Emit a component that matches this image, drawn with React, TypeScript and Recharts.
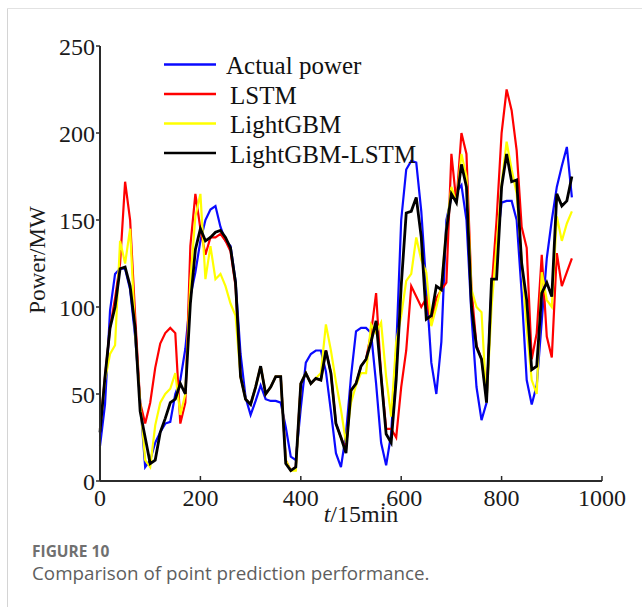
import React from 'react'
import { Legend, Line, LineChart, XAxis, YAxis } from 'recharts'

// t in units of 15 min
const timeSteps = [
    0, 10, 20, 30, 40, 50, 60, 70, 80, 90,
    100, 110, 120, 130, 140, 150, 160, 170, 180, 190,
    200, 210, 220, 230, 240, 250, 260, 270, 280, 290,
    300, 310, 320, 330, 340, 350, 360, 370, 380, 390,
    400, 410, 420, 430, 440, 450, 460, 470, 480, 490,
    500, 510, 520, 530, 540, 550, 560, 570, 580, 590,
    600, 610, 620, 630, 640, 650, 660, 670, 680, 690,
    700, 710, 720, 730, 740, 750, 760, 770, 780, 790,
    800, 810, 820, 830, 840, 850, 860, 870, 880, 890,
    900, 910, 920, 930, 940,
]

const actualPower = [
    20, 44, 98, 119, 122, 122, 110, 83, 46, 8,
    12, 22, 28, 33, 34, 50, 58, 76, 106, 120,
    138, 150, 156, 158, 146, 138, 135, 115, 73, 48,
    38, 46, 55, 47, 46, 46, 45, 31, 14, 12,
    42, 68, 73, 75, 75, 63, 40, 16, 8, 27,
    60, 86, 88, 88, 85, 56, 22, 9, 27, 75,
    150, 179, 184, 183, 155, 112, 68, 50, 80, 150,
    163, 166, 170, 150, 95, 54, 35, 45, 112, 134,
    160, 161, 161, 150, 108, 58, 44, 55, 92, 128,
    150, 169, 181, 192, 163,
]

const lstm = [
    30, 60, 88, 105, 125, 172, 150, 95, 45, 33,
    45, 65, 79, 85, 88, 85, 33, 45, 135, 165,
    145, 130, 140, 140, 142, 138, 132, 112, 60, 47,
    44, 54, 66, 50, 54, 60, 60, 12, 6, 8,
    56, 62, 56, 59, 58, 75, 62, 33, 25, 18,
    52, 56, 66, 70, 85, 108, 60, 30, 30, 25,
    54, 75, 112, 106, 100, 105, 90, 105, 110, 114,
    188, 160, 200, 188, 110, 78, 70, 48, 110, 150,
    200, 225, 213, 190, 146, 134, 70, 85, 130, 83,
    71, 131, 112, 120, 128,
]

const lightGbm = [
    30, 58, 73, 78, 138, 125, 145, 85, 45, 12,
    8, 32, 45, 50, 53, 62, 38, 50, 115, 152,
    165, 116, 135, 116, 119, 112, 102, 95, 60, 47,
    44, 54, 66, 50, 54, 60, 60, 12, 6, 6,
    56, 62, 56, 59, 62, 90, 75, 57, 41, 22,
    45, 55, 62, 62, 90, 85, 91, 60, 37, 80,
    95, 115, 119, 140, 127, 120, 89, 100, 112, 145,
    169, 160, 188, 175, 110, 100, 97, 45, 100, 135,
    171, 195, 179, 165, 127, 88, 58, 50, 120, 104,
    100, 152, 138, 148, 155,
]

const lightGbmLstm = [
    28, 60, 88, 100, 122, 123, 112, 88, 40, 25,
    10, 12, 28, 36, 45, 47, 56, 50, 102, 133,
    145, 138, 140, 143, 144, 140, 134, 114, 60, 47,
    44, 54, 66, 50, 54, 60, 60, 10, 6, 8,
    56, 62, 56, 59, 58, 75, 62, 33, 25, 16,
    52, 56, 66, 70, 80, 92, 60, 27, 22, 58,
    112, 154, 155, 163, 140, 93, 95, 112, 110, 144,
    165, 160, 182, 169, 100, 77, 70, 45, 116, 116,
    169, 188, 172, 173, 125, 104, 64, 66, 108, 114,
    106, 165, 158, 161, 175,
]

const xTicks = [0, 200, 400, 600, 800, 1000]
const yTicks = [0, 50, 100, 150, 200, 250]

const data = timeSteps.map((t, i) => ({
    t,
    actual: actualPower[i],
    lstm: lstm[i],
    lgbm: lightGbm[i],
    hybrid: lightGbmLstm[i],
}))

const serif = '"Liberation Serif", "Times New Roman", serif'
const frame = '#2b2b2b'

const BottomTick = (props: any) => {
    const { x, y, payload } = props
    const label = payload.value === 600 ? '.600' : String(payload.value)
    return (
        <g>
            <line x1={x} x2={x} y1={y - 8} y2={y - 13} stroke={frame} strokeWidth={1.5} />
            <text x={x} y={y} dy="0.71em" textAnchor="middle" fontFamily={serif} fontSize={24} fill="#1a1a1a">
                {label}
            </text>
        </g>
    )
}

const TopTick = (props: any) => {
    const { x, y } = props
    return <line x1={x} x2={x} y1={y} y2={y + 5} stroke={frame} strokeWidth={1.5} />
}

const RightTick = (props: any) => {
    const { x, y } = props
    return <line x1={x} x2={x - 5} y1={y} y2={y} stroke={frame} strokeWidth={1.5} />
}

const renderLegend = (props: any) => {
    const { payload } = props
    return (
        <svg width={270} height={120}>
            {payload.map((entry: any, i: number) => {
                const y = 14.5 + i * 29.5
                return (
                    <g key={entry.value}>
                        <line x1={4} x2={56} y1={y} y2={y} stroke={entry.color} strokeWidth={2.5} />
                        <text x={i === 0 ? 66 : 70} y={y + 9.7} fontFamily={serif} fontSize={25} fill="#111">
                            {entry.value}
                        </text>
                    </g>
                )
            })}
        </svg>
    )
}

const App: React.FC = () => {
    return (
        <div style={{ position: 'absolute', left: 0, top: 0, width: 642, height: 607, background: '#fff' }}>
            <div style={{ position: 'absolute', left: 7, top: 8, width: 1, height: 599, background: '#d4d4d4' }} />
            <div style={{ position: 'absolute', left: 7, top: 8, width: 635, height: 1, background: '#e2e2e2' }} />
            <LineChart width={642} height={607} data={data}
                margin={{ top: 46, right: 40, left: 40, bottom: 96 }}
                style={{ fontFamily: serif }}>
                <XAxis dataKey="t" type="number" domain={[0, 1000]} ticks={xTicks} height={30}
                    axisLine={{ stroke: frame, strokeWidth: 2 }} tickLine={false}
                    tickSize={0} tickMargin={8} tick={<BottomTick />} interval={0}
                    label={{
                        content: () => (
                            <text x={361} y={522} textAnchor="middle" fontFamily={serif} fontSize={24} fill="#1a1a1a">
                                <tspan fontStyle="italic">t</tspan>/15min
                            </text>
                        ),
                    }} />
                <XAxis xAxisId="top" orientation="top" type="number" domain={[0, 1000]} ticks={xTicks} height={0}
                    axisLine={{ stroke: frame, strokeWidth: 2 }} tickLine={false}
                    tickSize={0} tickMargin={0} tick={<TopTick />} interval={0} />
                <YAxis type="number" domain={[0, 250]} ticks={yTicks} width={60} interval={0}
                    axisLine={{ stroke: frame, strokeWidth: 2 }}
                    tickLine={{ stroke: frame, strokeWidth: 1.5 }} tickSize={4} tickMargin={1}
                    tick={{ fontFamily: serif, fontSize: 24, fill: '#1a1a1a' }}
                    label={{
                        content: () => (
                            <text x={45} y={260} transform="rotate(-90 45 260)" textAnchor="middle"
                                fontFamily={serif} fontSize={23} fill="#1a1a1a">
                                Power/MW
                            </text>
                        ),
                    }} />
                <YAxis yAxisId="right" orientation="right" type="number" domain={[0, 250]} ticks={yTicks} width={0}
                    axisLine={{ stroke: frame, strokeWidth: 2 }} tickLine={false}
                    tickSize={0} tickMargin={0} tick={<RightTick />} interval={0} />
                <Legend layout="vertical" align="center" verticalAlign="middle" content={renderLegend}
                    wrapperStyle={{ left: 160, top: 50, width: 270, height: 120 }} />
                <Line type="linear" dataKey="actual" name="Actual power" stroke="#0a0aff" strokeWidth={2.2}
                    dot={false} isAnimationActive={false} />
                <Line type="linear" dataKey="lstm" name="LSTM" stroke="#ff0000" strokeWidth={2.2}
                    dot={false} isAnimationActive={false} />
                <Line type="linear" dataKey="lgbm" name="LightGBM" stroke="#ffff00" strokeWidth={2.2}
                    dot={false} isAnimationActive={false} />
                <Line type="linear" dataKey="hybrid" name="LightGBM-LSTM" stroke="#000000" strokeWidth={2.8}
                    dot={false} isAnimationActive={false} />
            </LineChart>
            <div style={{
                position: 'absolute', left: 32, top: 541, fontFamily: '"Open Sans", sans-serif',
                fontSize: 15.5, fontWeight: 700, color: '#707070', lineHeight: '20px',
            }}>
                FIGURE 10
            </div>
            <div style={{
                position: 'absolute', left: 32, top: 561, fontFamily: '"Open Sans", sans-serif',
                fontSize: 18.8, color: '#5e5e5e', lineHeight: '24px',
            }}>
                Comparison of point prediction performance.
            </div>
        </div>
    )
}

export default App
